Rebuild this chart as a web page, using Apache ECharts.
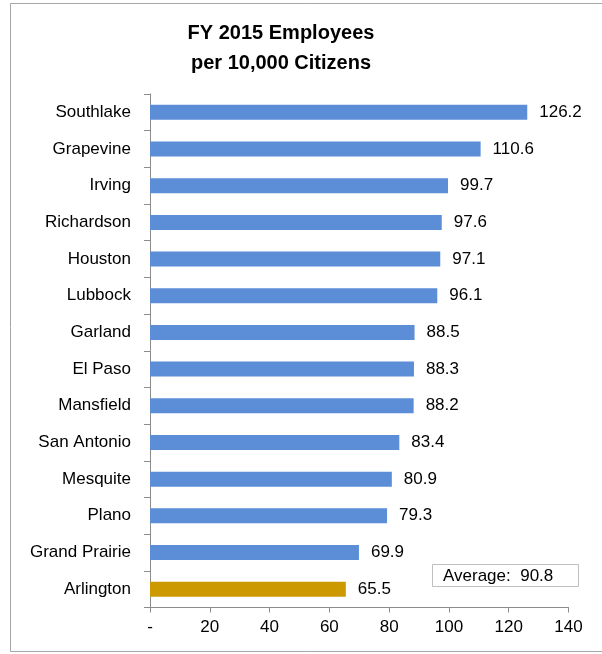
<!DOCTYPE html>
<html>
<head>
<meta charset="utf-8">
<script src="https://cdn.jsdelivr.net/npm/echarts@6/dist/echarts.min.js"></script>
<style>
  html, body { margin: 0; padding: 0; background: #fff; }
  #chart { width: 602px; height: 654px; }
</style>
</head>
<body>
<div id="chart"></div>
<script>
// Cities, top to bottom
const cities = [
  'Southlake', 'Grapevine', 'Irving', 'Richardson', 'Houston', 'Lubbock',
  'Garland', 'El Paso', 'Mansfield', 'San Antonio', 'Mesquite', 'Plano',
  'Grand Prairie', 'Arlington'
];
// Employees per 10,000 citizens, FY 2015
const employees = [
  126.2, 110.6, 99.7, 97.6, 97.1, 96.1,
  88.5, 88.3, 88.2, 83.4, 80.9, 79.3,
  69.9, 65.5
];
const highlightCity = 'Arlington';
const averageValue = 90.8;
const xTicks = { min: 0, max: 140, step: 20 };

const FONT = 'Liberation Sans, Arial, sans-serif';
const BLUE = '#5B8ED7';
const GOLD = '#CC9900';
const AXIS = '#8C8C8C';

const chart = echarts.init(document.getElementById('chart'), null, { renderer: 'canvas' });

chart.setOption({
  animation: false,
  backgroundColor: '#ffffff',
  textStyle: { fontFamily: FONT },
  title: {
    text: 'FY 2015 Employees\nper 10,000 Citizens',
    left: 276,
    top: 13,
    textAlign: 'center',
    textStyle: {
      fontFamily: FONT,
      fontSize: 20,
      fontWeight: 'bold',
      color: '#000',
      lineHeight: 30
    }
  },
  grid: { left: 150, right: 33.5, top: 94, bottom: 46.5, containLabel: false },
  xAxis: {
    type: 'value',
    min: xTicks.min,
    max: xTicks.max,
    interval: xTicks.step,
    axisLine: { show: true, lineStyle: { color: AXIS, width: 1 } },
    axisTick: { show: true, length: 5, lineStyle: { color: AXIS } },
    splitLine: { show: false },
    axisLabel: {
      color: '#000',
      fontSize: 17,
      fontFamily: FONT,
      margin: 11,
      formatter: v => (v === 0 ? '-' : String(v))
    }
  },
  yAxis: {
    type: 'category',
    data: cities,
    inverse: true,
    axisLine: { show: true, lineStyle: { color: AXIS, width: 1 } },
    axisTick: { show: true, length: 6, alignWithLabel: false, lineStyle: { color: AXIS } },
    axisLabel: { color: '#000', fontSize: 17, fontFamily: FONT, margin: 19 },
    splitLine: { show: false }
  },
  series: [{
    type: 'bar',
    barWidth: 15,
    data: employees.map((v, i) => ({
      value: v,
      itemStyle: { color: cities[i] === highlightCity ? GOLD : BLUE }
    })),
    label: {
      show: true,
      position: 'right',
      distance: 12,
      color: '#000',
      fontSize: 17,
      fontFamily: FONT,
      formatter: p => p.value.toFixed(1)
    }
  }],
  graphic: [
    {
      type: 'rect',
      shape: { x: 10.5, y: 3.5, width: 700, height: 648 },
      style: { fill: null, stroke: '#A6A6A6', lineWidth: 1 },
      silent: true
    },
    {
      type: 'group',
      left: 432,
      top: 564,
      children: [
        {
          type: 'rect',
          shape: { x: 0.5, y: 0.5, width: 146, height: 22 },
          style: { fill: '#fff', stroke: '#BFBFBF', lineWidth: 1 }
        },
        {
          type: 'text',
          x: 11,
          y: 12,
          style: {
            text: 'Average:  ' + averageValue.toFixed(1),
            font: '17px ' + FONT,
            fill: '#000',
            verticalAlign: 'middle'
          }
        }
      ]
    }
  ]
});
</script>
</body>
</html>
